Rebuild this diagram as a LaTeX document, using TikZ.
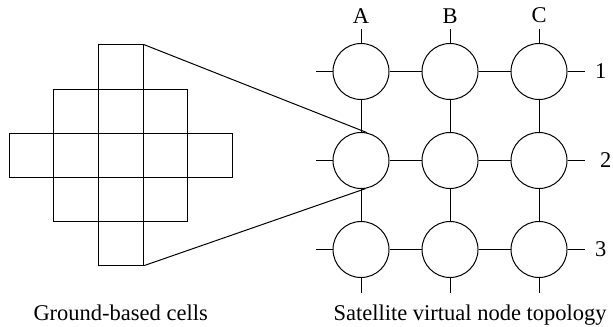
\documentclass[tikz,border=0pt]{standalone}
\usepackage{fontspec}
\setmainfont{Liberation Serif}
\usetikzlibrary{positioning,calc}

\begin{document}
\begin{tikzpicture}[x=0.5pt,y=-0.5pt,font=\fontsize{11.25}{13.5}\selectfont,line width=0.5pt,
  cell/.style={draw,minimum width=22.3pt,minimum height=22.03pt,inner sep=0pt},
  vnode/.style={draw,circle,minimum size=28pt,inner sep=0pt},
  tag/.style={inner sep=0pt}]
\useasboundingbox (0,0) rectangle (613,326);
\foreach \i/\j in {2/0, 1/1,2/1,3/1, 0/2,1/2,2/2,3/2,4/2, 1/3,2/3,3/3, 2/4}
  \node[cell] (c\i\j) at ({31.6+44.6*\i},{67+44.06*\j}) {};
\foreach \col/\c in {A/0,B/1,C/2}
  \foreach \row in {1,2,3}
    \node[vnode] (\col\row) at ({361+89*\c},{71.5+89*(\row-1)}) {};
\foreach \row in {1,2,3}
  \draw (A\row) -- (B\row) -- (C\row);
\foreach \col in {A,B,C}
  \draw (\col1) -- (\col2) -- (\col3);
\foreach \row/\dx in {1/5pt,2/7.5pt,3/5pt} {
  \coordinate[left=8.5pt of A\row.west] (w\row);
  \coordinate[right=8.5pt of C\row.east] (e\row);
  \node[tag,right=\dx of e\row] (n\row) {\row};
  \draw (A\row) -- (w\row);
  \draw (C\row) -- (e\row);
}
\foreach \col in {A,B,C} {
  \coordinate[above=7.1pt of \col1.north] (t\col);
  \coordinate[below=7.6pt of \col3.south] (b\col);
  \node[tag,above=2.6pt of t\col] (h\col) {\col};
  \draw (\col1) -- (t\col);
  \draw (\col3) -- (b\col);
}
\draw (c20.north east) -- (A2.78);
\draw (c24.south east) -- (A2.-81);
\node[tag,anchor=base west] (capcells) at (33,320.5) {Ground-based cells};
\node[tag,anchor=base west] (capsat) at (333,320.5) {Satellite virtual node topology};
\end{tikzpicture}
\end{document}
